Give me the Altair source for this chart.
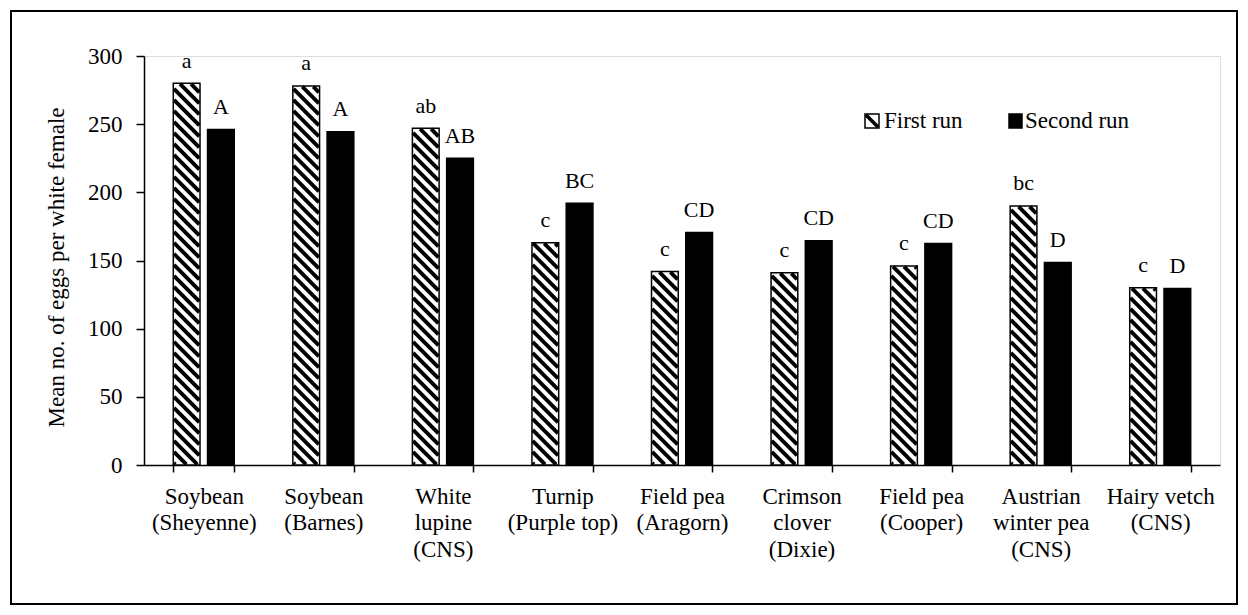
import altair as alt
import pandas as pd
import numpy as np

# ---------------- data ----------------
categories = ["Soybean\n(Sheyenne)", "Soybean\n(Barnes)", "White\nlupine\n(CNS)",
              "Turnip\n(Purple top)", "Field pea\n(Aragorn)", "Crimson\nclover\n(Dixie)",
              "Field pea\n(Cooper)", "Austrian\nwinter pea\n(CNS)", "Hairy vetch\n(CNS)"]
series = ["First run", "Second run"]
first_run = [280, 278, 247, 163, 142, 141, 146, 190, 130]
second_run = [246, 244.5, 225, 192, 170.5, 164.5, 162.5, 148.5, 129.5]
first_letters = ["a", "a", "ab", "c", "c", "c", "c", "bc", "c"]
second_letters = ["A", "A", "AB", "BC", "CD", "CD", "CD", "D", "D"]
y_ticks = [0, 50, 100, 150, 200, 250, 300]
y_title = "Mean no. of eggs per white female"

rows = []
for c, a, b, la, lb in zip(categories, first_run, second_run, first_letters, second_letters):
    rows.append({"cat": c, "series": series[0], "value": a, "letter": la})
    rows.append({"cat": c, "series": series[1], "value": b, "letter": lb})
df = pd.DataFrame(rows)

# ---------------- layout ----------------
W, H = 1076, 409
P_IN = 0.49
SUB_PAD = 0.22
FONT = "Liberation Serif"
FS = 23

step = W / len(categories)
bw = (1 - P_IN) * step
sub_step = bw / (2 - SUB_PAD)
bar_w = sub_step * (1 - SUB_PAD)

# hatch stripes (diagonal "\" pattern) clipped to the first-run bars, as rule segments
D = 11.0      # stripe period (px, measured vertically)
T = 5.5       # black part of the period (px, vertically)
E = 0.7       # inset from the bar edge
SW = T / np.sqrt(2)
hrows = []
for i, v in enumerate(first_run):
    h = v * H / 300.0
    x0 = (i + P_IN / 2) * step
    kmax = int(np.ceil((bar_w + h) / D)) + 1
    for k in range(-1, kmax + 1):
        cm = k * D + T / 2
        u0 = max(E, cm - (h - E))
        u1 = min(bar_w - E, cm - E)
        if u1 - u0 < 0.3:
            continue
        hrows.append({"xa": (x0 + u0) / step, "xb": (x0 + u1) / step,
                      "ya": (cm - u0) * 300.0 / H, "yb": (cm - u1) * 300.0 / H})
hdf = pd.DataFrame(hrows)

xscale = alt.Scale(domain=categories, paddingInner=P_IN, paddingOuter=P_IN / 2)
xoff = alt.Scale(domain=series, paddingInner=SUB_PAD, paddingOuter=0)
yscale = alt.Scale(domain=[0, 300], nice=False, zero=True)

x_axis = alt.Axis(title=None, labelExpr="split(datum.label, '\\n')", labelAngle=0,
                  labelFontSize=FS, labelLineHeight=26.5, labelPadding=13, tickSize=7,
                  tickBand="extent", domainColor="black", tickColor="black",
                  domainWidth=1.5, tickWidth=1.5, labelColor="black",
                  labelAlign="center", labelBaseline="top", labelOverlap=False,
                  labelFont=FONT)
y_axis = alt.Axis(title=y_title, values=y_ticks, tickSize=8, labelPadding=14,
                  labelFontSize=FS, titleFontSize=FS, titleFontWeight="normal",
                  titleX=-81, titleY=211, titleAlign="center", titleBaseline="alphabetic",
                  titleAngle=270, grid=False, domainColor="black", tickColor="black",
                  domainWidth=1.5, tickWidth=1.5, labelColor="black", titleColor="black",
                  labelFont=FONT, titleFont=FONT)

fill_scale = alt.Scale(domain=series, range=["white", "black"])

bars_fill = alt.Chart(df).mark_bar(strokeWidth=0).encode(
    x=alt.X("cat:N", scale=xscale, sort=categories, axis=x_axis),
    xOffset=alt.XOffset("series:N", scale=xoff, sort=series),
    y=alt.Y("value:Q", scale=yscale, axis=y_axis, title=y_title),
    fill=alt.Fill("series:N", scale=fill_scale, legend=None),
)

hatch = alt.Chart(hdf).mark_rule(color="black", strokeWidth=SW, strokeCap="butt").encode(
    x=alt.X("xa:Q", scale=alt.Scale(domain=[0, len(categories)], nice=False, zero=False), axis=None),
    x2="xb:Q",
    y=alt.Y("ya:Q", scale=yscale, title=y_title),
    y2="yb:Q",
)

bars_outline = alt.Chart(df).mark_bar(filled=False, stroke="black", strokeWidth=1.5).encode(
    x=alt.X("cat:N", scale=xscale, sort=categories, axis=None),
    xOffset=alt.XOffset("series:N", scale=xoff, sort=series),
    y=alt.Y("value:Q", scale=yscale, title=y_title),
)

labels = alt.Chart(df).mark_text(font=FONT, fontSize=22, baseline="alphabetic",
                                 align="center", dy=-15.5, color="black").encode(
    x=alt.X("cat:N", scale=xscale, sort=categories, axis=None),
    xOffset=alt.XOffset("series:N", scale=xoff, sort=series),
    y=alt.Y("value:Q", scale=yscale, title=y_title),
    text="letter:N",
)

one = pd.DataFrame({"k": [0]})
frame = alt.Chart(one).mark_rect(filled=False, stroke="black", strokeWidth=2).encode(
    x=alt.value(-133), x2=alt.value(W + 17), y=alt.value(-45), y2=alt.value(H + 139))

leg_df1 = pd.DataFrame({"series": [series[0]]})
leg_df2 = pd.DataFrame({"series": [series[1]]})
leg1_rect = alt.Chart(leg_df1).mark_rect(fill="white", stroke="black", strokeWidth=1.5).encode(
    x=alt.value(721), x2=alt.value(735), y=alt.value(58), y2=alt.value(72))
leg1_rule = alt.Chart(leg_df1).mark_rule(color="black", strokeWidth=3.5).encode(
    x=alt.value(722), x2=alt.value(734), y=alt.value(59), y2=alt.value(71))
leg1_text = alt.Chart(leg_df1).mark_text(font=FONT, fontSize=FS, align="left",
                                          baseline="alphabetic", color="black").encode(
    x=alt.value(740), y=alt.value(72), text="series:N")
leg2_rect = alt.Chart(leg_df2).mark_rect(fill="black", stroke="black", strokeWidth=1.5).encode(
    x=alt.value(865), x2=alt.value(878), y=alt.value(58), y2=alt.value(72))
leg2_text = alt.Chart(leg_df2).mark_text(font=FONT, fontSize=FS, align="left",
                                          baseline="alphabetic", color="black").encode(
    x=alt.value(881), y=alt.value(72), text="series:N")

chart = alt.layer(
    frame, bars_fill, hatch, bars_outline, labels,
    leg1_rect, leg1_rule, leg1_text, leg2_rect, leg2_text
).resolve_scale(x="independent").properties(
    width=W, height=H,
    padding={"left": 10, "top": 10, "right": 0, "bottom": 0},
    background="white",
).configure_view(stroke=None).configure(font=FONT)

chart.save("out.html", embed_options={"renderer": "svg", "actions": False})
